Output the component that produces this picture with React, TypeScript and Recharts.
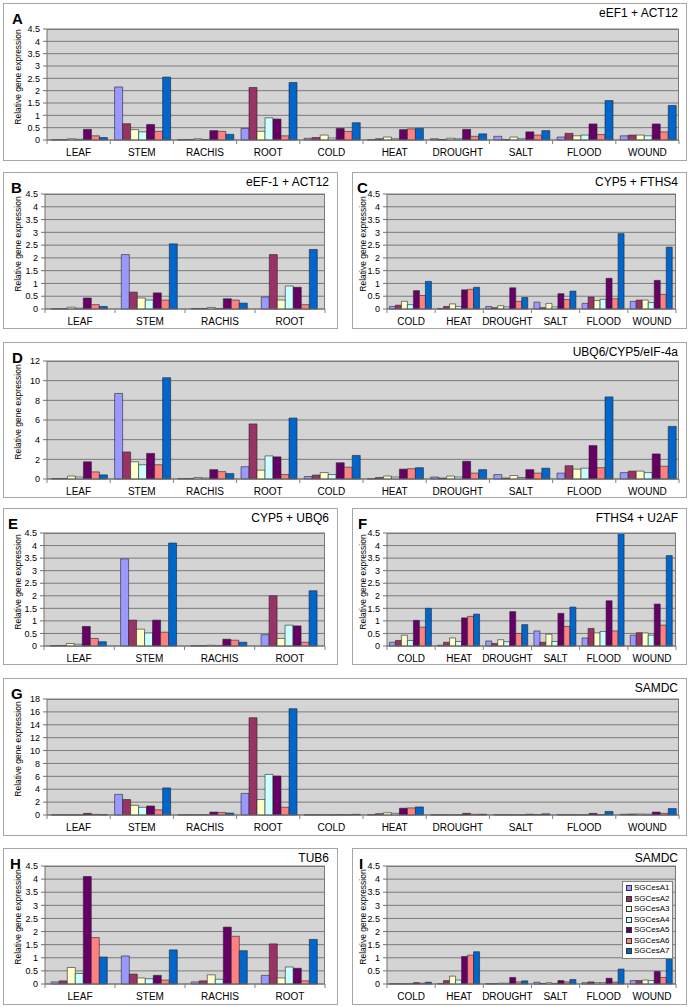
import React from "react";
import { BarChart, Bar, XAxis, YAxis, CartesianGrid, Legend } from "recharts";

const tissues = ["LEAF", "STEM", "RACHIS", "ROOT"];
const stresses = ["COLD", "HEAT", "DROUGHT", "SALT", "FLOOD", "WOUND"];
const allSamples = [...tissues, ...stresses];

const genes = ["SGCesA1", "SGCesA2", "SGCesA3", "SGCesA4", "SGCesA5", "SGCesA6", "SGCesA7"];
const geneColors = ["#9999ff", "#993366", "#ffffcc", "#ccffff", "#660066", "#ff8080", "#0066cc"];

const ticks45 = [0, 0.5, 1, 1.5, 2, 2.5, 3, 3.5, 4, 4.5];
const ticks12 = [0, 2, 4, 6, 8, 10, 12];
const ticks18 = [0, 2, 4, 6, 8, 10, 12, 14, 16, 18];

// one row per gene (SGCesA1..A7), columns follow the sample list of the panel
const eef1Act12 = [
  [0.01, 2.15, 0.01, 0.47, 0.07, 0.01, 0.05, 0.15, 0.12, 0.17],
  [0.01, 0.66, 0.02, 2.13, 0.1, 0.05, 0.02, 0.02, 0.27, 0.2],
  [0.05, 0.42, 0.05, 0.35, 0.2, 0.12, 0.07, 0.12, 0.17, 0.2],
  [0.03, 0.33, 0.02, 0.9, 0.08, 0.05, 0.05, 0.05, 0.2, 0.17],
  [0.43, 0.63, 0.38, 0.85, 0.47, 0.42, 0.43, 0.33, 0.65, 0.65],
  [0.17, 0.35, 0.35, 0.17, 0.35, 0.45, 0.15, 0.2, 0.22, 0.33],
  [0.1, 2.55, 0.23, 2.33, 0.7, 0.47, 0.25, 0.38, 1.6, 1.4],
];

const eef1bAct12 = [
  [0.01, 2.13, 0.02, 0.47],
  [0.01, 0.66, 0.02, 2.13],
  [0.07, 0.43, 0.06, 0.35],
  [0.03, 0.35, 0.02, 0.9],
  [0.43, 0.63, 0.4, 0.85],
  [0.17, 0.35, 0.35, 0.17],
  [0.1, 2.55, 0.23, 2.33],
];

const cyp5Fths4 = [
  [0.1, 0.02, 0.1, 0.27, 0.22, 0.3],
  [0.15, 0.1, 0.05, 0.05, 0.47, 0.35],
  [0.3, 0.2, 0.13, 0.22, 0.33, 0.35],
  [0.17, 0.1, 0.08, 0.08, 0.38, 0.25],
  [0.72, 0.75, 0.83, 0.6, 1.2, 1.12],
  [0.53, 0.77, 0.3, 0.37, 0.4, 0.57],
  [1.08, 0.85, 0.45, 0.7, 2.95, 2.42],
];

const ubq6Cyp5Eif = [
  [0.05, 8.7, 0.05, 1.25, 0.25, 0.03, 0.2, 0.45, 0.6, 0.65],
  [0.05, 2.75, 0.05, 5.6, 0.4, 0.15, 0.1, 0.1, 1.35, 0.8],
  [0.3, 1.75, 0.15, 0.9, 0.65, 0.3, 0.3, 0.35, 1.0, 0.8],
  [0.2, 1.45, 0.1, 2.35, 0.45, 0.2, 0.2, 0.15, 1.1, 0.65],
  [1.75, 2.6, 0.95, 2.25, 1.65, 1.0, 1.8, 0.95, 3.4, 2.55],
  [0.72, 1.45, 0.75, 0.45, 1.2, 1.05, 0.6, 0.6, 1.15, 1.3],
  [0.42, 10.3, 0.55, 6.2, 2.4, 1.15, 0.95, 1.1, 8.35, 5.35],
];

const cyp5Ubq6 = [
  [0.01, 3.47, 0.01, 0.45],
  [0.02, 1.03, 0.01, 2.0],
  [0.1, 0.67, 0.03, 0.3],
  [0.07, 0.52, 0.02, 0.83],
  [0.78, 1.03, 0.27, 0.8],
  [0.3, 0.55, 0.23, 0.15],
  [0.17, 4.1, 0.15, 2.2],
];

const fths4U2af = [
  [0.15, 0.03, 0.2, 0.6, 0.32, 0.43],
  [0.22, 0.15, 0.1, 0.15, 0.7, 0.53],
  [0.43, 0.32, 0.25, 0.47, 0.52, 0.52],
  [0.22, 0.18, 0.17, 0.18, 0.58, 0.43],
  [1.02, 1.12, 1.37, 1.3, 1.8, 1.67],
  [0.75, 1.18, 0.5, 0.78, 0.6, 0.83],
  [1.5, 1.27, 0.85, 1.55, 4.48, 3.6],
];

const samdcAll = [
  [0.02, 3.2, 0.02, 3.35, 0.02, 0.05, 0.03, 0.05, 0.05, 0.12],
  [0.02, 2.4, 0.02, 15.1, 0.02, 0.2, 0.02, 0.03, 0.05, 0.15],
  [0.02, 1.5, 0.05, 2.4, 0.02, 0.35, 0.03, 0.05, 0.05, 0.15],
  [0.02, 1.2, 0.05, 6.3, 0.02, 0.25, 0.02, 0.03, 0.05, 0.12],
  [0.25, 1.4, 0.45, 6.05, 0.05, 1.05, 0.25, 0.12, 0.25, 0.45],
  [0.1, 0.8, 0.4, 1.2, 0.03, 1.1, 0.1, 0.07, 0.07, 0.25],
  [0.05, 4.2, 0.3, 16.5, 0.1, 1.25, 0.12, 0.18, 0.55, 1.0],
];

const tub6 = [
  [0.08, 1.07, 0.08, 0.33],
  [0.12, 0.38, 0.12, 1.53],
  [0.63, 0.23, 0.35, 0.23],
  [0.4, 0.2, 0.18, 0.65],
  [4.1, 0.33, 2.17, 0.6],
  [1.77, 0.15, 1.82, 0.12],
  [1.03, 1.3, 1.27, 1.7],
];

const samdcStress = [
  [0.01, 0.02, 0.01, 0.07, 0.05, 0.13],
  [0.01, 0.13, 0.01, 0.02, 0.08, 0.13],
  [0.01, 0.3, 0.03, 0.05, 0.05, 0.15],
  [0.01, 0.15, 0.03, 0.02, 0.05, 0.13],
  [0.05, 1.05, 0.25, 0.13, 0.22, 0.48],
  [0.03, 1.1, 0.08, 0.08, 0.07, 0.25],
  [0.07, 1.23, 0.12, 0.17, 0.57, 1.02],
];

const FONT = '"Liberation Sans", Arial, sans-serif';

type Box = { x: number; y: number; w: number; h: number };
type Plot = { l: number; t: number; r: number; b: number };

type PanelProps = {
  letter: string;
  title: string;
  box: Box;
  plot: Plot;
  samples: string[];
  values: number[][];
  ticks: number[];
  gap: string;
  labelX: number;
  letterX: number;
  legend?: boolean;
};

function LegendBox() {
  return (
    <div
      style={{
        border: "1px solid #808080",
        background: "#fff",
        padding: "1px 2px 1px 3px",
        fontSize: 8,
        lineHeight: "10.5px",
        color: "#000",
        fontFamily: FONT,
      }}
    >
      {genes.map((g, i) => (
        <div key={g} style={{ display: "flex", alignItems: "center", whiteSpace: "nowrap" }}>
          <span
            style={{
              display: "inline-block",
              flexShrink: 0,
              width: 4,
              height: 4,
              background: geneColors[i],
              border: "1px solid #333",
              marginRight: 2,
            }}
          />
          <span>{g}</span>
        </div>
      ))}
    </div>
  );
}

function Panel(p: PanelProps) {
  const data = p.samples.map((s, i) => {
    const row: Record<string, string | number> = { sample: s };
    genes.forEach((g, j) => {
      row[g] = p.values[j][i];
    });
    return row;
  });

  const ox = p.box.x + 1;
  const oy = p.box.y + 1;
  const cw = p.box.w - 2;
  const ch = p.box.h - 2;
  const xAxisH = 20;
  const yAxisW = p.plot.l - ox;
  const margin = {
    top: p.plot.t - oy,
    right: ox + cw - p.plot.r,
    bottom: oy + ch - p.plot.b - xAxisH,
    left: 0,
  };
  const plotW = p.plot.r - p.plot.l;
  const bw = plotW / p.samples.length;
  const n = p.samples.length;

  const CatTick = (t: any) => {
    const { x, y, payload, index } = t;
    return (
      <g>
        <line x1={x - bw / 2} y1={y} x2={x - bw / 2} y2={y + 4} stroke="#808080" />
        {index === n - 1 && <line x1={x + bw / 2} y1={y} x2={x + bw / 2} y2={y + 4} stroke="#808080" />}
        <text x={x} y={y + 15.5} textAnchor="middle" fontSize={10} fill="#000">
          {payload.value}
        </text>
      </g>
    );
  };

  return (
    <div
      style={{
        position: "absolute",
        left: p.box.x,
        top: p.box.y,
        width: p.box.w,
        height: p.box.h,
        boxSizing: "border-box",
        border: "1px solid #a6a6a6",
        background: "#fff",
      }}
    >
      <BarChart
        width={cw}
        height={ch}
        data={data}
        margin={margin}
        barCategoryGap={p.gap}
        barGap={0}
      >
        <CartesianGrid horizontal vertical={false} stroke="#7a7a7a" fill="#d4d4d4" />
        <XAxis
          dataKey="sample"
          height={xAxisH}
          interval={0}
          tickSize={0}
          tickMargin={0}
          tickLine={false}
          axisLine={{ stroke: "#707070" }}
          tick={CatTick}
        />
        <YAxis
          width={yAxisW}
          domain={[0, p.ticks[p.ticks.length - 1]]}
          ticks={p.ticks}
          interval={0}
          tickSize={4}
          tickMargin={3}
          axisLine={{ stroke: "#707070" }}
          tickLine={{ stroke: "#707070" }}
          tick={{ fontSize: 9, fill: "#000" }}
        />
        {genes.map((g, j) => (
          <Bar
            key={g}
            dataKey={g}
            fill={geneColors[j]}
            stroke="#262626"
            strokeWidth={0.6}
            isAnimationActive={false}
          />
        ))}
        {p.legend && (
          <Legend
            layout="vertical"
            align="center"
            verticalAlign="middle"
            wrapperStyle={{ left: 622 - ox, top: 881 - oy, width: "auto" }}
            content={() => <LegendBox />}
          />
        )}
      </BarChart>
      <div
        style={{
          position: "absolute",
          left: p.plot.l - ox,
          top: p.plot.t - oy,
          width: plotW,
          height: p.plot.b - p.plot.t,
          boxSizing: "border-box",
          borderTop: "1px solid #7a7a7a",
          borderRight: "1px solid #7a7a7a",
          pointerEvents: "none",
        }}
      />
      <div
        style={{
          position: "absolute",
          left: p.letterX,
          top: 7,
          fontSize: 15,
          lineHeight: "15px",
          fontWeight: "bold",
          fontFamily: FONT,
        }}
      >
        {p.letter}
      </div>
      <div
        style={{
          position: "absolute",
          right: 8,
          top: 3,
          fontSize: 12,
          lineHeight: "12px",
          fontFamily: FONT,
          whiteSpace: "nowrap",
        }}
      >
        {p.title}
      </div>
      <div
        style={{
          position: "absolute",
          left: p.labelX - 60,
          top: (p.plot.t + p.plot.b) / 2 - oy - 8 - 5,
          width: 120,
          height: 10,
          lineHeight: "10px",
          textAlign: "center",
          fontSize: 8.5,
          fontFamily: FONT,
          whiteSpace: "nowrap",
          transform: "rotate(-90deg)",
        }}
      >
        Relative gene expression
      </div>
    </div>
  );
}

export default function App() {
  return (
    <div
      style={{
        position: "absolute",
        left: 0,
        top: 0,
        width: 689,
        height: 1007,
        background: "#fff",
        fontFamily: FONT,
      }}
    >
      <Panel
        letter="A"
        title="eEF1 + ACT12"
        box={{ x: 3, y: 3, w: 684, h: 158 }}
        plot={{ l: 47, t: 29, r: 679, b: 140 }}
        samples={allSamples}
        values={eef1Act12}
        ticks={ticks45}
        gap="7%"
        labelX={14}
        letterX={8}
      />
      <Panel
        letter="B"
        title="eEF-1 + ACT12"
        box={{ x: 3, y: 172, w: 335, h: 157 }}
        plot={{ l: 45, t: 194, r: 325, b: 309 }}
        samples={tissues}
        values={eef1bAct12}
        ticks={ticks45}
        gap="9%"
        labelX={14}
        letterX={7}
      />
      <Panel
        letter="C"
        title="CYP5 + FTHS4"
        box={{ x: 352, y: 172, w: 335, h: 157 }}
        plot={{ l: 387, t: 194, r: 676, b: 309 }}
        samples={stresses}
        values={cyp5Fths4}
        ticks={ticks45}
        gap="5%"
        labelX={10}
        letterX={4}
      />
      <Panel
        letter="D"
        title="UBQ6/CYP5/eIF-4a"
        box={{ x: 3, y: 342, w: 684, h: 156 }}
        plot={{ l: 47, t: 361, r: 679, b: 479 }}
        samples={allSamples}
        values={ubq6Cyp5Eif}
        ticks={ticks12}
        gap="7%"
        labelX={14}
        letterX={8}
      />
      <Panel
        letter="E"
        title="CYP5 + UBQ6"
        box={{ x: 3, y: 508, w: 335, h: 157 }}
        plot={{ l: 44, t: 533, r: 325, b: 646 }}
        samples={tissues}
        values={cyp5Ubq6}
        ticks={ticks45}
        gap="9%"
        labelX={14}
        letterX={4}
      />
      <Panel
        letter="F"
        title="FTHS4 + U2AF"
        box={{ x: 352, y: 508, w: 335, h: 157 }}
        plot={{ l: 387, t: 533, r: 676, b: 646 }}
        samples={stresses}
        values={fths4U2af}
        ticks={ticks45}
        gap="5%"
        labelX={10}
        letterX={5}
      />
      <Panel
        letter="G"
        title="SAMDC"
        box={{ x: 3, y: 678, w: 684, h: 158 }}
        plot={{ l: 47, t: 699, r: 679, b: 815 }}
        samples={allSamples}
        values={samdcAll}
        ticks={ticks18}
        gap="7%"
        labelX={14}
        letterX={7}
      />
      <Panel
        letter="H"
        title="TUB6"
        box={{ x: 3, y: 848, w: 335, h: 157 }}
        plot={{ l: 45, t: 866, r: 325, b: 984 }}
        samples={tissues}
        values={tub6}
        ticks={ticks45}
        gap="9%"
        labelX={14}
        letterX={6}
      />
      <Panel
        letter="I"
        title="SAMDC"
        box={{ x: 352, y: 848, w: 335, h: 157 }}
        plot={{ l: 387, t: 866, r: 676, b: 984 }}
        samples={stresses}
        values={samdcStress}
        ticks={ticks45}
        gap="5%"
        labelX={10}
        letterX={6}
        legend
      />
    </div>
  );
}
